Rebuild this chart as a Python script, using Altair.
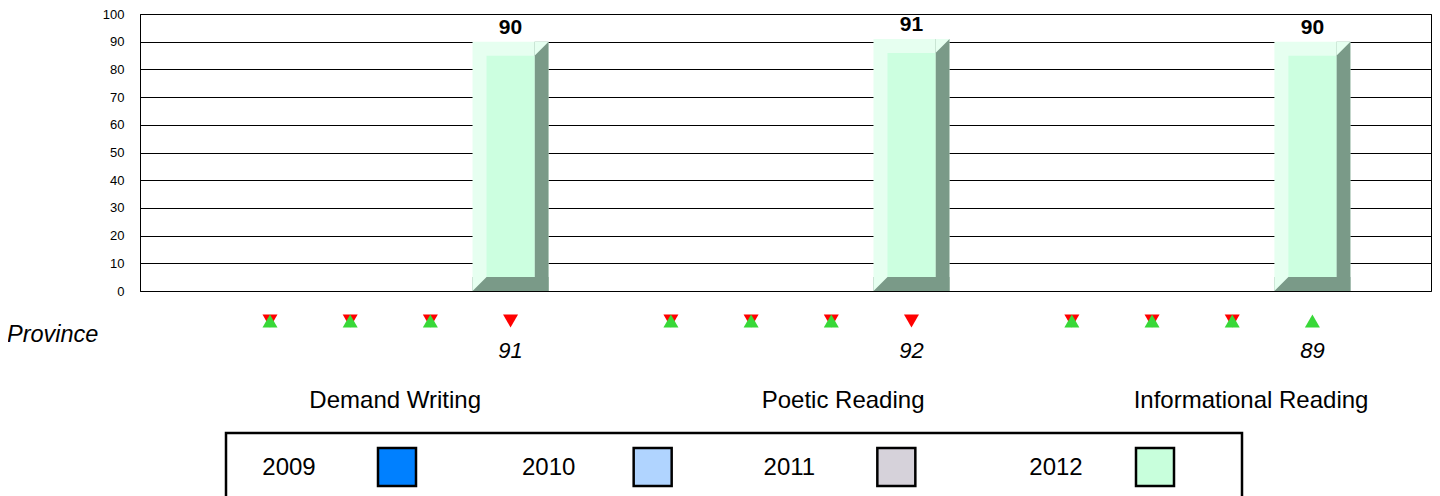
import altair as alt
import pandas as pd

# ---------------- data ----------------
categories = ["Demand Writing", "Poetic Reading", "Informational Reading"]
years = ["2009", "2010", "2011", "2012"]
school_2012 = [90, 91, 90]
province_2012 = [91, 92, 89]

# ---------------- styles / layout ----------------
year_colors = ["#0080ff", "#b0d4ff", "#d6d2da", "#c8ffdc"]
LIGHT = "#e6fff0"
FACE = "#ccffe0"
DARK = "#7a9a88"
RED = "#ff0000"
GREEN = "#38d838"
FONT = "Liberation Sans"
label_shift = {"Demand Writing": 45, "Poetic Reading": 92, "Informational Reading": 99}
legend_text_dx = {"2009": 0, "2010": 4, "2011": -11, "2012": 0}
legend_square_dx = {"2009": 108, "2010": 108, "2011": 96, "2012": 99}

# one band slot per (category, year) with an empty slot before and between groups
slot_domain = ["lead"]
for ci, cat in enumerate(categories):
    if ci > 0:
        slot_domain.append(f"gap{ci}")
    for yr in years:
        slot_domain.append(f"{cat}|{yr}")

rows = []
for ci, cat in enumerate(categories):
    for yr in years:
        has = yr == "2012"
        rows.append({"category": cat, "year": yr, "slot": f"{cat}|{yr}",
                     "score": school_2012[ci] if has else None,
                     "province": province_2012[ci] if has else None,
                     "zero": 0})
df = pd.DataFrame(rows)

tri_rows = []
for r in rows:
    if r["score"] is None:
        dirs = ["down", "up"]
    elif r["score"] < r["province"]:
        dirs = ["down"]
    else:
        dirs = ["up"]
    for d in dirs:
        tri_rows.append({"slot": r["slot"], "dir": d})
tri_df = pd.DataFrame(tri_rows)

X = alt.X("slot:N", sort=slot_domain,
          scale=alt.Scale(domain=slot_domain, paddingInner=0, paddingOuter=0.55,
                          align=0.11),
          axis=None)
yscale = alt.Scale(domain=[0, 100], nice=False, zero=True)
yaxis = alt.Axis(values=list(range(0, 101, 10)), grid=True, gridColor="black",
                 gridWidth=1, gridOpacity=1, domainColor="black", domainWidth=1,
                 ticks=False, labelPadding=16, labelFontSize=13, labelColor="black",
                 labelFont=FONT, title=None)


def Y(field):
    return alt.Y(f"{field}:Q", scale=yscale, axis=yaxis)


base = alt.Chart(df).transform_filter("datum.score != null")

outer = base.mark_bar(width=76, color=LIGHT).encode(
    x=X, y=Y("score"), y2=alt.Y2("zero:Q"))
right_strip = base.mark_bar(width=14, xOffset=31, color=DARK).encode(
    x=X, y=Y("score"), y2=alt.Y2("zero:Q"))
bottom_strip = base.mark_bar(width=76, yOffset=-14, color=DARK).encode(
    x=X, y=Y("zero"), y2=alt.Y2("zero:Q"))
corner_path = "M-1,-1 L1,-1 L-1,1 Z"
corner_tr = base.mark_point(shape=corner_path, size=196, filled=True, strokeWidth=0,
                            opacity=1, color=LIGHT, xOffset=31, yOffset=7).encode(
    x=X, y=Y("score"))
corner_bl = base.mark_point(shape=corner_path, size=196, filled=True, strokeWidth=0,
                            opacity=1, color=LIGHT, xOffset=-31, yOffset=-7).encode(
    x=X, y=Y("zero"))
face = base.mark_bar(width=48, yOffset=14, y2Offset=-14, color=FACE).encode(
    x=X, y=Y("score"), y2=alt.Y2("zero:Q"))
value_labels = base.mark_text(font=FONT, fontSize=21, fontWeight="bold", color="black",
                              baseline="alphabetic", dy=-8).encode(
    x=X, y=Y("score"), text="score:Q")

tri_base = alt.Chart(tri_df)
down_path = "M-1,-0.87 L1,-0.87 L0,0.87 Z"
up_path = "M0,-0.87 L1,0.87 L-1,0.87 Z"
red_tri = tri_base.transform_filter("datum.dir == 'down'").mark_point(
    shape=down_path, size=225, filled=True, strokeWidth=0, opacity=1, color=RED).encode(
    x=X, y=alt.value(307))
green_tri = tri_base.transform_filter("datum.dir == 'up'").mark_point(
    shape=up_path, size=225, filled=True, strokeWidth=0, opacity=1, color=GREEN).encode(
    x=X, y=alt.value(307))

prov_text = base.mark_text(font=FONT, fontSize=22, fontStyle="italic", color="black",
                           baseline="alphabetic").encode(
    x=X, y=alt.value(344), text="province:Q")

cat_layers = []
for cat in categories:
    cat_layers.append(
        alt.Chart(df).transform_filter(f"datum.category == '{cat}' && datum.year == '2010'")
        .mark_text(font=FONT, fontSize=24, color="black", baseline="alphabetic",
                   dx=label_shift[cat])
        .encode(x=X, y=alt.value(394), text="category:N"))

prov_title = alt.Chart(pd.DataFrame({"t": ["Province"]})).mark_text(
    font=FONT, fontSize=23.5, fontStyle="italic", color="black", align="left",
    baseline="alphabetic").encode(x=alt.value(-133), y=alt.value(328), text="t:N")

main = alt.layer(outer, right_strip, bottom_strip, corner_tr, corner_bl, face,
                 value_labels, red_tri, green_tri, prov_text, *cat_layers, prov_title)

# ---------------- legend ----------------
leg_df = pd.DataFrame({"year": years})
LX = alt.X("year:N", sort=years,
           scale=alt.Scale(type="point", domain=years, range=[149, 916], padding=0),
           axis=None)
box = alt.Chart(pd.DataFrame({"b": [1]})).mark_rect(
    fill="white", stroke="black", strokeWidth=2.5).encode(
    x=alt.value(86), x2=alt.value(1102), y=alt.value(419), y2=alt.value(540))
leg_layers = [box]
for yr in years:
    one = alt.Chart(leg_df).transform_filter(f"datum.year == '{yr}'")
    leg_layers.append(one.mark_text(font=FONT, fontSize=24, color="black",
                                    baseline="alphabetic", dx=legend_text_dx[yr]).encode(
        x=LX, y=alt.value(461), text="year:N"))
    leg_layers.append(one.mark_square(size=1444, stroke="black", strokeWidth=2.5,
                                      opacity=1, xOffset=legend_square_dx[yr]).encode(
        x=LX, y=alt.value(453),
        color=alt.Color("year:N", scale=alt.Scale(domain=years, range=year_colors),
                        legend=None)))
legend = alt.layer(*leg_layers)

chart = alt.layer(main, legend).resolve_scale(x="independent").properties(
    width=1291, height=277,
    autosize=alt.AutoSizeParams(type="none"),
    padding={"left": 132, "top": 6, "right": 1, "bottom": 230},
).configure_view(stroke="black", strokeWidth=1)

chart.save("out.html", embed_options={"renderer": "svg", "actions": False})
